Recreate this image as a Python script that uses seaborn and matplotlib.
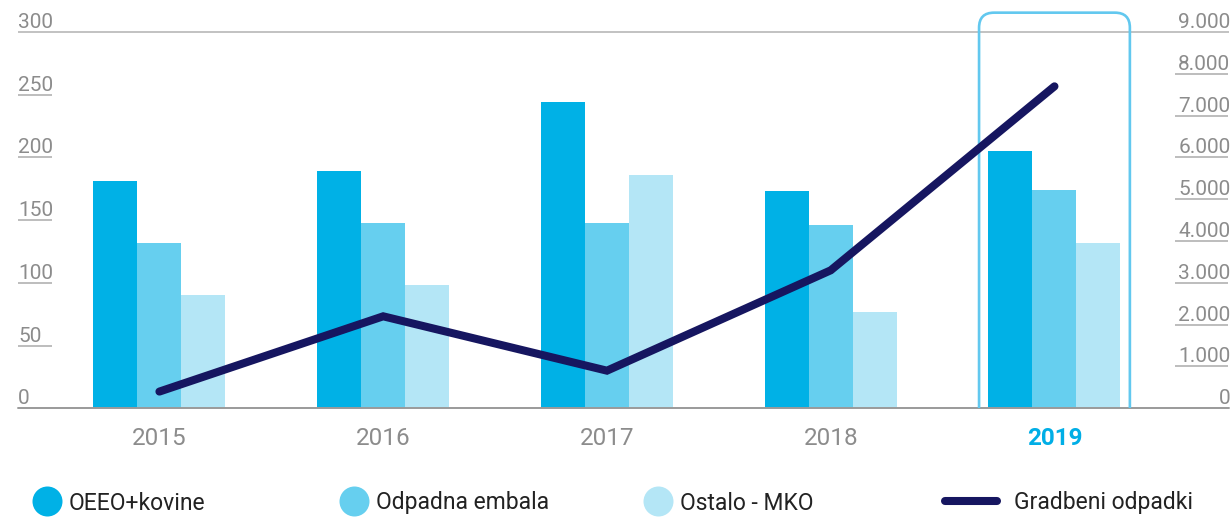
import matplotlib
matplotlib.use("Agg")
import matplotlib.pyplot as plt
import matplotlib.transforms as mtransforms
from matplotlib.patches import FancyBboxPatch
from matplotlib.lines import Line2D
import numpy as np
import pandas as pd
import seaborn as sns

# --- data -------------------------------------------------------------
years = ["2015", "2016", "2017", "2018", "2019"]
series_names = ["OEEO+kovine", "Odpadna embala", "Ostalo - MKO"]
oeeo_kovine = [181, 189, 244, 173, 205]
odpadna_embala = [132, 148, 148, 146, 174]
ostalo_mko = [90, 98, 186, 77, 132]
line_name = "Gradbeni odpadki"
gradbeni_odpadki = [400, 2200, 900, 3300, 7700]

left_ticks = [0, 50, 100, 150, 200, 250, 300]
right_ticks = [0, 1000, 2000, 3000, 4000, 5000, 6000, 7000, 8000, 9000]
right_tick_labels = ["0", "1.000", "2.000", "3.000", "4.000", "5.000",
                     "6.000", "7.000", "8.000", "9.000"]

# --- styling ----------------------------------------------------------
colors = {"OEEO+kovine": "#00b1e6",
          "Odpadna embala": "#66cfef",
          "Ostalo - MKO": "#b4e6f6"}
line_color = "#161660"
box_color = "#62c8ef"
tick_gray = "#8c8c8c"
rule_gray = "#bdbdbd"

sns.set_theme(style="white")
plt.rcParams["font.family"] = ["Roboto", "DejaVu Sans"]

df = pd.DataFrame({
    "Leto": years * 3,
    "Vrsta": [s for s in series_names for _ in years],
    "Vrednost": oeeo_kovine + odpadna_embala + ostalo_mko,
})

W, H = 1231, 517
fig = plt.figure(figsize=(W / 100, H / 100), dpi=100)
ax_bottom_px, ax_top_px = 408.3, 9.4
ax_w_px = 1211
ax = fig.add_axes([18 / W, (H - ax_bottom_px) / H, ax_w_px / W,
                   (ax_bottom_px - ax_top_px) / H])

sns.barplot(data=df, x="Leto", y="Vrednost", hue="Vrsta", palette=colors,
            hue_order=series_names, width=0.59, gap=0, saturation=1,
            linewidth=0, legend=False, ax=ax)

y_top = 318
ax.set_ylim(0, y_top)
ax.set_xlim(-0.632, 4.78)
ax.set_xlabel("")
ax.set_ylabel("")
for sp in ax.spines.values():
    sp.set_visible(False)

# horizontal rules: top value line and baseline
ax.axhline(300, color=rule_gray, lw=1.3, zorder=0.5)
ax.axhline(0, color="#9a9a9a", lw=1.4, zorder=3, clip_on=False)

# left value axis: labels sit on short underlines
ax.set_yticks(left_ticks, labels=[str(v) for v in left_ticks])
ax.tick_params(axis="y", left=False, length=0, pad=0, labelsize=15,
               labelcolor=tick_gray)
plt.setp(ax.get_yticklabels(), ha="left", va="bottom")
trans_l = mtransforms.blended_transform_factory(ax.transAxes, ax.transData)
for v in left_ticks[1:-1]:
    ax.plot([0, 34.5 / ax_w_px], [v, v], transform=trans_l,
            color=rule_gray, lw=1.4, solid_capstyle="butt", zorder=5,
            clip_on=False)

# category axis
ax.set_xticks(range(len(years)), labels=years)
ax.tick_params(axis="x", bottom=False, length=0, pad=13.5, labelsize=17.5,
               labelcolor=tick_gray)
last = ax.get_xticklabels()[-1]
last.set_fontweight("bold")
last.set_color("#00aee6")

# highlight frame around the latest year
x_px_per_unit = 223.75
y_px_per_unit = 376 / 300
radius = 0.067
frame = FancyBboxPatch((3.663, -20), 0.674, 335.4,
                       boxstyle=f"round,pad=0,rounding_size={radius}",
                       mutation_aspect=x_px_per_unit / y_px_per_unit,
                       fill=False, edgecolor=box_color, lw=1.9, zorder=4,
                       clip_on=True)
ax.add_patch(frame)

# secondary axis with the line series
ax2 = ax.twinx()
sns.lineplot(x=np.arange(len(years)), y=gradbeni_odpadki, ax=ax2,
             color=line_color, linewidth=5.8, solid_capstyle="round",
             solid_joinstyle="miter", legend=False)
ax2.set_ylim(0, y_top * 30)
ax2.set_xlim(ax.get_xlim())
for sp in ax2.spines.values():
    sp.set_visible(False)
ax2.set_ylabel("")
ax2.set_yticks(right_ticks, labels=right_tick_labels)
ax2.tick_params(axis="y", right=False, length=0, pad=1, labelsize=15,
                labelcolor=tick_gray)
plt.setp(ax2.get_yticklabels(), ha="right", va="bottom")
trans_r = mtransforms.blended_transform_factory(ax2.transAxes, ax2.transData)
for v in right_ticks[1:-1]:
    ax2.plot([1 - 54 / ax_w_px, 1 - 1 / ax_w_px], [v, v], transform=trans_r,
             color=rule_gray, lw=1.4, solid_capstyle="butt", zorder=5,
             clip_on=False)
ax2.grid(False)
ax.grid(False)

# legend row
leg_fs = 16.5
fs_px = leg_fs * 100 / 72
leg_y = 1 - 503 / H
circle_starts = [32, 339, 643]
for name, x0 in zip(series_names, circle_starts):
    h = Line2D([], [], ls="none", marker="o", markersize=21.6,
               markerfacecolor=colors[name], markeredgewidth=0)
    fig.legend([h], [name], loc="center left",
               bbox_to_anchor=(x0 / W, leg_y), frameon=False,
               fontsize=leg_fs, handlelength=30 / fs_px,
               handletextpad=7 / fs_px, borderpad=0, borderaxespad=0,
               labelcolor="#222222")
h_line = Line2D([], [], color=line_color, lw=5.8, solid_capstyle="round")
fig.legend([h_line], [line_name], loc="center left",
           bbox_to_anchor=(945 / W, leg_y), frameon=False, fontsize=leg_fs,
           handlelength=52 / fs_px, handletextpad=17 / fs_px, borderpad=0,
           borderaxespad=0, labelcolor="#222222")

fig.savefig("out.png", dpi=100)
